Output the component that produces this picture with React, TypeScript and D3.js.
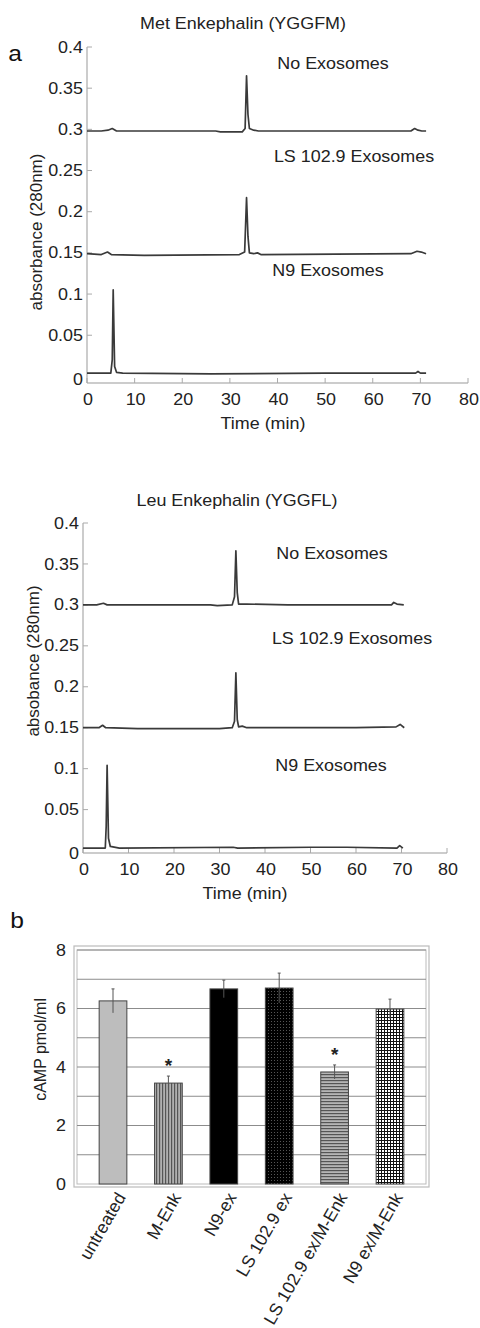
import React from 'react';
import * as d3 from 'd3';

// time axis / absorbance axis ticks (both chromatograms)
const timeTicks = [0, 10, 20, 30, 40, 50, 60, 70, 80];
const absTicks = [0, 0.05, 0.1, 0.15, 0.2, 0.25, 0.3, 0.35, 0.4];
const absTickLabels = ['0', '0.05', '0.1', '0.15', '0.2', '0.25', '0.3', '0.35', '0.4'];

// Met Enkephalin traces, [time (min), absorbance]
const metNoExo = [
  [0, 0.298], [3, 0.298], [4.4, 0.299], [5.3, 0.301], [6.2, 0.298], [27, 0.298], [28, 0.297],
  [32.6, 0.297], [33.2, 0.301], [33.5, 0.365], [33.8, 0.318], [34.1, 0.301], [35, 0.299],
  [36, 0.298], [68, 0.298], [68.8, 0.301], [69.5, 0.299], [70.3, 0.298], [71.2, 0.298],
];
const metLs = [
  [0, 0.149], [3, 0.148], [4.3, 0.151], [5.1, 0.148], [12, 0.147], [32, 0.148], [33.1, 0.151],
  [33.5, 0.217], [33.8, 0.17], [34.1, 0.15], [35, 0.149], [35.8, 0.15], [36.5, 0.148],
  [68, 0.149], [69.3, 0.152], [70.2, 0.151], [71.2, 0.149],
];
const metN9 = [
  [0, 0.004], [5.0, 0.004], [5.3, 0.02], [5.5, 0.105], [5.8, 0.012], [6.2, 0.005], [7.5, 0.004],
  [26, 0.003], [50, 0.004], [69, 0.004], [69.5, 0.006], [70, 0.004], [71.2, 0.004],
];

// Leu Enkephalin traces
const leuNoExo = [
  [0, 0.3], [3, 0.3], [4.5, 0.302], [5.3, 0.3], [28, 0.3], [29.5, 0.299], [32.8, 0.3],
  [33.3, 0.31], [33.6, 0.366], [33.9, 0.315], [34.2, 0.301], [36, 0.301], [45, 0.3],
  [60, 0.3], [67.8, 0.3], [68.3, 0.303], [69, 0.301], [70.5, 0.3],
];
const leuLs = [
  [0, 0.15], [3.5, 0.15], [4.3, 0.153], [5, 0.15], [12, 0.149], [30, 0.149], [32.8, 0.15],
  [33.3, 0.158], [33.6, 0.217], [33.9, 0.16], [34.2, 0.151], [35, 0.152], [36, 0.15],
  [60, 0.15], [68.8, 0.151], [69.7, 0.154], [70.6, 0.15],
];
const leuN9 = [
  [0, 0.003], [4.9, 0.003], [5.1, 0.03], [5.3, 0.104], [5.6, 0.015], [6, 0.005], [8, 0.003],
  [33, 0.004], [34, 0.003], [50, 0.004], [58, 0.004], [69, 0.003], [69.6, 0.006], [70.3, 0.003],
];

// cAMP bar chart
const barCategories = ['untreated', 'M-Enk', 'N9-ex', 'LS 102.9 ex', 'LS 102.9 ex/M-Enk', 'N9 ex/M-Enk'];
const barValues = [6.26, 3.45, 6.67, 6.7, 3.83, 5.98];
const barErrors = [0.41, 0.24, 0.3, 0.51, 0.24, 0.34];
const barStars = [false, true, false, false, true, false];
const campTicks = [0, 2, 4, 6, 8];
const campGrid = [1, 2, 3, 4, 5, 6, 7, 8];

const FONT = '"Liberation Sans", Arial, sans-serif';
const barFills = ['#bdbdbd', 'url(#vstripe)', '#000', 'url(#dots)', 'url(#hstripe)', 'url(#grid)'];

// text slightly widened, the figure is stretched horizontally
function T({ x, y, anchor = 'middle', size = 16, rotate = 0, children }) {
  return (
    <text
      transform={`translate(${x},${y}) rotate(${rotate}) scale(${rotate ? 1 : 1.12},1)`}
      dy="0.35em"
      fontSize={size}
      textAnchor={anchor}
    >
      {children}
    </text>
  );
}

function Chromatogram({ layout, title, yLabel, series }) {
  const x = d3.scaleLinear().domain([0, 80]).range([layout.left, layout.right]);
  const y = d3.scaleLinear().domain([layout.yMin, 0.4]).range([layout.bottom, layout.top]);
  const line = d3.line().x(d => x(d[0])).y(d => y(d[1]));
  const names = ['No Exosomes', 'LS 102.9 Exosomes', 'N9 Exosomes'];

  return (
    <g fontFamily={FONT} fill="#222">
      <T x={layout.titleX} y={layout.titleY}>{title}</T>
      {/* axes */}
      <line x1={layout.left} x2={layout.left} y1={y(0.4)} y2={layout.bottom} stroke="#999" />
      <line x1={layout.left} x2={x(80)} y1={layout.bottom} y2={layout.bottom} stroke="#999" />
      {absTicks.map((t, i) => (
        <g key={'y' + i}>
          {i > 0 && <line x1={layout.left} x2={layout.left + 5} y1={y(t)} y2={y(t)} stroke="#aaa" />}
          <T x={layout.left - 4} y={i === 0 ? y(t) + 3 : y(t)} anchor="end">{absTickLabels[i]}</T>
        </g>
      ))}
      {timeTicks.map((t, i) => (
        <g key={'x' + i}>
          <line x1={x(t)} x2={x(t)} y1={layout.bottom} y2={layout.bottom - 5} stroke="#aaa" />
          <T x={x(t) + 1} y={layout.bottom + 16}>{t}</T>
        </g>
      ))}
      <T x={layout.xLabelX} y={layout.bottom + 40}>Time (min)</T>
      <T x={layout.yLabelX} y={layout.yLabelY} rotate={-90} size={17}>{yLabel}</T>
      {series.map((s, i) => (
        <path key={'s' + i} d={line(s)} fill="none" stroke="#3a3a3a" strokeWidth={1.7} strokeLinejoin="round" />
      ))}
      {names.map((n, i) => (
        <T key={'n' + i} x={layout.names[i][0]} y={layout.names[i][1]}>{n}</T>
      ))}
    </g>
  );
}

function BarChart() {
  const x = d3.scaleBand().domain(barCategories).range([77, 426]).paddingInner(0.5).paddingOuter(0.4);
  const y = d3.scaleLinear().domain([0, 8]).range([1184, 950]);
  const bw = x.bandwidth();

  return (
    <g fontFamily={FONT} fill="#222">
      <defs>
        <pattern id="vstripe" width={3} height={4} patternUnits="userSpaceOnUse">
          <rect width={3} height={4} fill="#b0b0b0" />
          <rect width={1.2} height={4} fill="#555" />
        </pattern>
        <pattern id="hstripe" width={4} height={3} patternUnits="userSpaceOnUse">
          <rect width={4} height={3} fill="#b5b5b5" />
          <rect width={4} height={1.2} fill="#555" />
        </pattern>
        <pattern id="dots" width={3} height={3} patternUnits="userSpaceOnUse">
          <rect width={3} height={3} fill="#000" />
          <rect x={1} y={1} width={1} height={1} fill="#555" />
        </pattern>
        <pattern id="grid" width={3} height={3} patternUnits="userSpaceOnUse">
          <rect width={3} height={3} fill="#fff" />
          <rect width={3} height={1} fill="#111" />
          <rect width={1} height={3} fill="#111" />
        </pattern>
      </defs>
      <rect x={74} y={946} width={355} height={241} fill="none" stroke="#bbb" strokeWidth={1.2} />
      <rect x={77} y={950} width={349} height={234} fill="none" stroke="#bbb" strokeWidth={1} />
      {campGrid.map(v => (
        <line key={'g' + v} x1={77} x2={426} y1={y(v)} y2={y(v)} stroke="#8c8c8c" />
      ))}
      {campTicks.map(v => (
        <T key={'t' + v} x={66} y={y(v)} anchor="end">{v}</T>
      ))}
      <T x={40} y={y(4.6)} rotate={-90} size={16}>cAMP pmol/ml</T>
      {barCategories.map((c, i) => {
        const x0 = x(c);
        const cx = x0 + bw / 2;
        return (
          <g key={c}>
            <rect x={x0} y={y(barValues[i])} width={bw} height={y(0) - y(barValues[i])} fill={barFills[i]} stroke="#444" strokeWidth={1} />
            <line x1={cx} x2={cx} y1={y(barValues[i] + barErrors[i])} y2={y(barValues[i] - barErrors[i])} stroke="#555" strokeWidth={1} />
            <line x1={cx - 1.5} x2={cx + 1.5} y1={y(barValues[i] + barErrors[i])} y2={y(barValues[i] + barErrors[i])} stroke="#555" strokeWidth={1} />
            {barStars[i] && (
              <text x={cx} y={y(barValues[i] + barErrors[i]) - 4} fontSize={19} fontWeight="bold" textAnchor="middle">*</text>
            )}
            <T x={cx + 8} y={1194} rotate={-60} anchor="end" size={17.5}>{c}</T>
          </g>
        );
      })}
    </g>
  );
}

export default function App() {
  const layoutMet = {
    left: 87, right: 468, top: 47, bottom: 383, yMin: -0.008,
    titleX: 243, titleY: 23, xLabelX: 263, yLabelX: 36, yLabelY: 232,
    names: [[333, 63], [354, 156], [328, 270]],
  };
  const layoutLeu = {
    left: 83, right: 447, top: 523, bottom: 853, yMin: -0.003,
    titleX: 237, titleY: 500, xLabelX: 245, yLabelX: 33, yLabelY: 661,
    names: [[332, 553], [352, 638], [331, 765]],
  };

  return (
    <svg width={480} height={1328} style={{ position: 'absolute', left: 0, top: 0, background: '#fff' }}>
      <rect width={480} height={1328} fill="#fff" />
      <g fontFamily={FONT} fill="#111">
        <T x={15} y={53} size={22}>a</T>
        <T x={17} y={920} size={22}>b</T>
      </g>
      <Chromatogram layout={layoutMet} title="Met Enkephalin (YGGFM)" yLabel="absorbance (280nm)" series={[metNoExo, metLs, metN9]} />
      <Chromatogram layout={layoutLeu} title="Leu Enkephalin (YGGFL)" yLabel="absobance (280nm)" series={[leuNoExo, leuLs, leuN9]} />
      <BarChart />
    </svg>
  );
}
